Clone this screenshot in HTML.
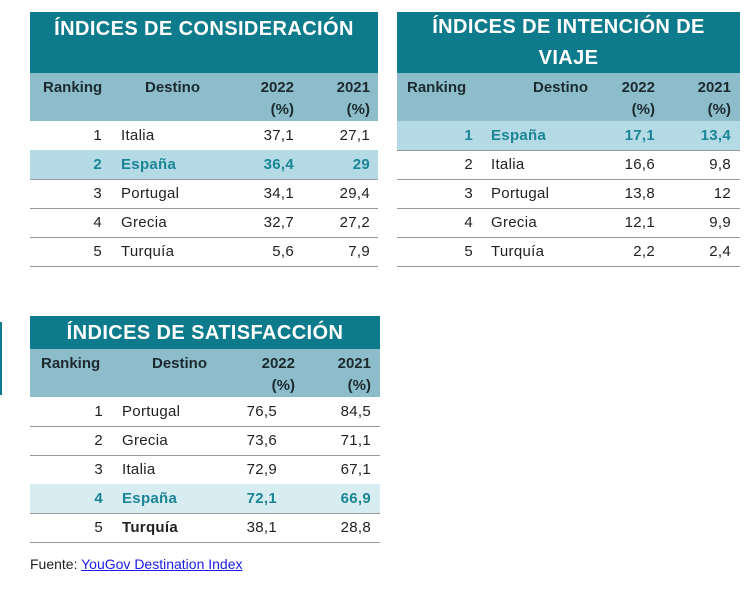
<!DOCTYPE html>
<html><head><meta charset="utf-8"><style>
body{margin:0;width:755px;height:589px;background:#fff;position:relative;overflow:hidden;font-family:"Liberation Sans",sans-serif;}
.a{position:absolute;white-space:nowrap;}
.t{background:#0d7b8c;color:#fff;font-weight:bold;font-size:20px;text-align:center;letter-spacing:0.4px;box-sizing:border-box;}
.h{background:#8dbdcb;}
.hb{font-weight:bold;font-size:15px;color:#1c2a30;}
.c{font-size:15px;color:#222;letter-spacing:0.3px;}
.s{color:#1b8595;font-weight:bold;}
.ln{height:1px;background:#9a9a9a;}
</style></head><body>
<script>
var R=document.body;
function d(cls,x,y,w,h,txt,extra){var e=document.createElement('div');e.className='a '+cls;e.style.left=x+'px';e.style.top=y+'px';if(w!=null)e.style.width=w+'px';if(h!=null)e.style.height=h+'px';if(txt!=null)e.innerHTML=txt;if(extra)e.style.cssText+=extra;R.appendChild(e);return e;}
function rt(cls,xr,y,txt){d(cls,xr-100,y,100,null,txt,'text-align:right');}
function table(x,w,ty,th,title,tlh,tpad,hy,rows,hi,hicol,cols,hdr){
 d('t',x,ty,w,th,title,'line-height:'+tlh+'px;white-space:normal;padding:0 '+tpad+'px;');
 d('h',x,hy,w,48);
 hdr();
 var y=hy+48;
 rows.forEach(function(r,i){
  if(i===hi)d('',x,y,w,29,null,'background:'+hicol);
  var cls='c'+(i===hi?' s':'');
  rt(cls,cols[0],y+6,r[0]);
  d(cls,cols[1],y+6,null,null,r[1],r[4]?'font-weight:bold':'');
  rt(cls,cols[2],y+6,r[2]);
  rt(cls,cols[3],y+6,r[3]);
  y+=29;
  d('ln',x,y,w,1);
 });
}
table(30,348,12,61,'ÍNDICES DE CONSIDERACIÓN',34,0,73,
 [['1','Italia','37,1','27,1'],['2','España','36,4','29'],['3','Portugal','34,1','29,4'],['4','Grecia','32,7','27,2'],['5','Turquía','5,6','7,9']],
 1,'#b4dbe5',[102,121,294,370],function(){
  d('hb',43,79,null,null,'Ranking');d('hb',145,79,null,null,'Destino');
  rt('hb',294,79,'2022');rt('hb',370,79,'2021');rt('hb',294,101,'(%)');rt('hb',370,101,'(%)');});
table(397,343,12,61,'ÍNDICES DE INTENCIÓN DE VIAJE',31,30,73,
 [['1','España','17,1','13,4'],['2','Italia','16,6','9,8'],['3','Portugal','13,8','12'],['4','Grecia','12,1','9,9'],['5','Turquía','2,2','2,4']],
 0,'#b4dbe5',[473,491,655,731],function(){
  d('hb',407,79,null,null,'Ranking');rt('hb',588,79,'Destino');
  rt('hb',655,79,'2022');rt('hb',731,79,'2021');rt('hb',655,101,'(%)');rt('hb',731,101,'(%)');});
table(30,350,316,33,'ÍNDICES DE SATISFACCIÓN',34,0,349,
 [['1','Portugal','76,5','84,5'],['2','Grecia','73,6','71,1'],['3','Italia','72,9','67,1'],['4','España','72,1','66,9'],['5','Turquía','38,1','28,8',1]],
 3,'#d8edf2',[103,122,277,371],function(){
  d('hb',41,355,null,null,'Ranking');d('hb',152,355,null,null,'Destino');
  rt('hb',295,355,'2022');rt('hb',371,355,'2021');rt('hb',295,377,'(%)');rt('hb',371,377,'(%)');});
d('',0,322,2,73,null,'background:#0d7b8c');
d('c',30,556,null,null,'Fuente: <span style="color:#1a1aee;text-decoration:underline">YouGov Destination Index</span>','font-size:14px;letter-spacing:0');
</script>
</body></html>
